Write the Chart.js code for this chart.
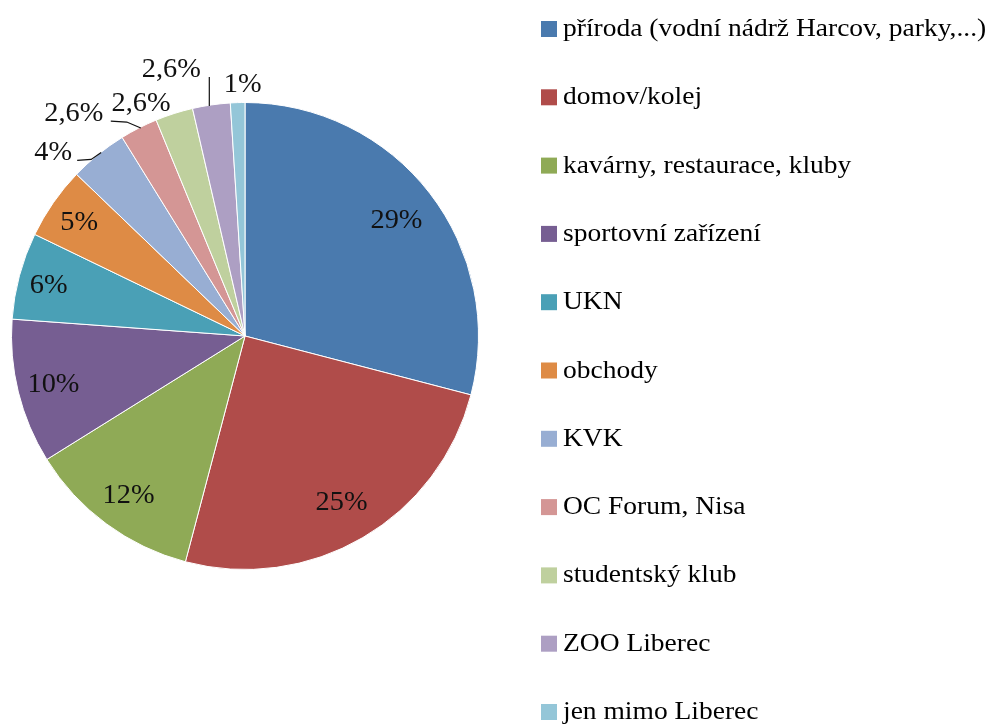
<!DOCTYPE html>
<html>
<head>
<meta charset="utf-8">
<script src="https://cdn.jsdelivr.net/npm/chart.js@4.4.0/dist/chart.umd.min.js"></script>
<style>
  html, body { margin: 0; padding: 0; background: #ffffff; }
  #wrap { width: 994px; height: 727px; position: relative; }
</style>
</head>
<body>
<div id="wrap"><canvas id="c" width="994" height="727"></canvas></div>
<script>
// ---- data ----
const categories = [
  'příroda (vodní nádrž Harcov, parky,...)',
  'domov/kolej',
  'kavárny, restaurace, kluby',
  'sportovní zařízení',
  'UKN',
  'obchody',
  'KVK',
  'OC Forum, Nisa',
  'studentský klub',
  'ZOO Liberec',
  'jen mimo Liberec'
];
const values = [29, 25, 12, 10, 6, 5, 4, 2.6, 2.6, 2.6, 1];
const valueLabels = ['29%', '25%', '12%', '10%', '6%', '5%', '4%', '2,6%', '2,6%', '2,6%', '1%'];
const colors = [
  '#4a7aae', '#b04c4a', '#8faa56', '#765e92', '#4aa0b6', '#de8b45',
  '#98aed3', '#d49695', '#bfd09e', '#ad9fc3', '#94c6d8'
];

// ---- label styling (positions relative to slice geometry) ----
const insideRadius = [0.82, 0.82, 0.84, 0.845, 0.87, 0.865];
const outside = {
  6:  { dx: -45, dy: -3,  leader: [[3, -2], [-7, 5], [-21, 6]] },
  7:  { dx: -65, dy: -16, leader: [[2, 0], [-12, -6], [-28, -7]] },
  8:  { dx: -33, dy: -12, leader: null },
  9:  { dx: -40, dy: -37, leader: [[-2, 1], [-2, -28]] },
  10: { dx: 5,   dy: -20, leader: null }
};

function drawScaled(ctx, text, x, y, sx, align) {
  ctx.save();
  ctx.translate(x, y);
  ctx.scale(sx, 1);
  ctx.textAlign = align;
  ctx.textBaseline = 'alphabetic';
  ctx.fillText(text, 0, 0);
  ctx.restore();
}

const labelPlugin = {
  id: 'sliceLabels',
  afterDatasetsDraw(chart) {
    const ctx = chart.ctx;
    const meta = chart.getDatasetMeta(0);
    ctx.save();
    ctx.fillStyle = '#111111';
    ctx.strokeStyle = '#111111';
    ctx.lineWidth = 1.2;
    ctx.font = '27px "Liberation Serif", "Times New Roman", serif';
    meta.data.forEach((arc, i) => {
      const p = arc.getProps(['x', 'y', 'startAngle', 'endAngle', 'outerRadius'], true);
      const mid = (p.startAngle + p.endAngle) / 2;
      const c = Math.cos(mid), s = Math.sin(mid);
      if (i < insideRadius.length) {
        const r = p.outerRadius * insideRadius[i];
        drawScaled(ctx, valueLabels[i], p.x + c * r, p.y + s * r + 9, 1.05, 'center');
      } else {
        const ex = p.x + c * p.outerRadius, ey = p.y + s * p.outerRadius;
        const o = outside[i];
        if (o.leader) {
          ctx.beginPath();
          o.leader.forEach((pt, k) => {
            if (k === 0) ctx.moveTo(ex + pt[0], ey + pt[1]);
            else ctx.lineTo(ex + pt[0], ey + pt[1]);
          });
          ctx.stroke();
        }
        drawScaled(ctx, valueLabels[i], ex + o.dx, ey + o.dy + 9, 1.05, 'center');
      }
    });
    ctx.restore();
  }
};

const legendPlugin = {
  id: 'sideLegend',
  afterDraw(chart) {
    const ctx = chart.ctx;
    const labels = chart.data.labels;
    const bg = chart.data.datasets[0].backgroundColor;
    ctx.save();
    ctx.font = '25px "Liberation Serif", "Times New Roman", serif';
    ctx.fillStyle = '#000000';
    labels.forEach((t, i) => {
      const base = 36 + i * 68.3;
      ctx.fillStyle = bg[i];
      ctx.fillRect(541, base - 15, 16, 16);
      ctx.fillStyle = '#000000';
      drawScaled(ctx, t, 563, base, 1.1, 'left');
    });
    ctx.restore();
  }
};

new Chart(document.getElementById('c'), {
  type: 'pie',
  data: {
    labels: categories,
    datasets: [{
      data: values,
      backgroundColor: colors,
      borderColor: '#ffffff',
      borderWidth: 1
    }]
  },
  options: {
    responsive: false,
    animation: false,
    layout: { padding: { left: 11, right: 515, top: 102, bottom: 157 } },
    plugins: {
      legend: { display: false },
      tooltip: { enabled: false }
    }
  },
  plugins: [labelPlugin, legendPlugin]
});
</script>
</body>
</html>
